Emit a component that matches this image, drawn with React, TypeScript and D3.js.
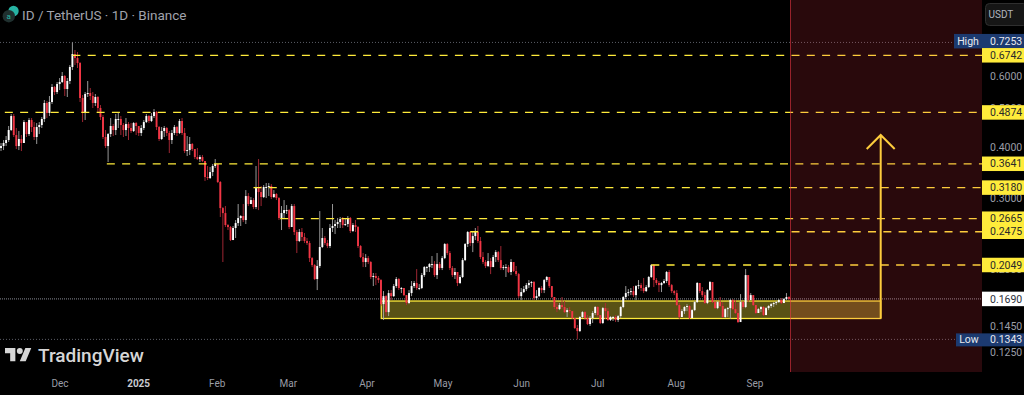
import React from "react";
import * as d3 from "d3";

// Daily candles, 8 Nov 2024 onward (open = previous close)
const firstOpen = 0.3982;
const closes = [
  .4027,.4097,.4167,.4410,.4775,.4287,.4027,.4191,.4097,.4615,
  .4311,.4668,.4486,.4239,.4486,.4537,.4695,.5142,.4858,.5171,
  .5631,.5473,.5727,.5793,.5994,.5567,.5826,.6308,.6792,.6640,
  .6453,.5290,.4858,.5411,.5442,.5350,.5142,.5320,.4998,.4748,
  .4239,.4027,.4311,.4512,.4410,.4695,.4695,.4537,.4410,.4563,
  .4461,.4385,.4589,.4512,.4336,.4461,.4615,.4775,.4642,.4775,
  .4885,.4486,.4191,.4385,.4461,.4336,.4167,.4336,.4486,.4336,
  .4642,.4336,.3914,.3936,.4074,.3959,.3783,.3740,.3783,.3698,
  .3377,.3358,.3474,.3595,.3636,.3283,.2831,.2752,.2571,.2542,
  .2361,.2528,.2600,.2675,.2706,.2645,.3031,.2897,.2963,.2848,
  .3172,.3101,.3014,.3191,.3191,.3209,.3014,.3066,.2997,.2675,
  .2752,.2799,.2799,.2542,.2864,.2471,.2348,.2471,.2402,.2348,
  .2321,.2131,.2048,.1892,.2037,.2269,.2388,.2321,.2282,.2528,
  .2557,.2586,.2615,.2660,.2571,.2586,.2675,.2485,.2571,.2542,
  .2282,.2144,.2084,.2131,.2084,.1914,.1925,.1903,.1881,.1641,
  .1717,.1568,.1747,.1717,.1818,.1892,.1798,.1798,.1727,.1651,
  .1747,.1818,.1850,.1798,.1798,.1935,.2025,.2025,.2060,.2060,
  .1935,.2060,.2014,.2131,.2308,.2193,.2014,.1935,.1969,.1850,
  .1914,.2107,.2308,.2471,.2321,.2415,.2471,.2348,.2144,.2084,
  .2037,.2095,.2025,.2144,.2205,.2107,.2014,.2025,.2025,.1969,
  .2084,.1980,.1946,.1717,.1757,.1787,.1828,.1850,.1860,.1698,
  .1717,.1798,.1777,.1881,.1914,.1818,.1708,.1614,.1595,.1632,
  .1614,.1568,.1586,.1577,.1516,.1433,.1408,.1525,.1568,.1516,
  .1465,.1516,.1560,.1614,.1542,.1474,.1604,.1577,.1499,.1525,
  .1525,.1499,.1533,.1614,.1708,.1747,.1757,.1767,.1727,.1818,
  .1828,.1798,.1767,.1808,.1914,.2048,.1881,.1850,.1828,.1850,
  .1871,.1969,.1828,.1767,.1747,.1632,.1525,.1577,.1614,.1623,
  .1516,.1586,.1660,.1850,.1767,.1727,.1651,.1777,.1860,.1660,
  .1604,.1660,.1623,.1525,.1595,.1604,.1679,.1595,.1560,.1482,
  .1660,.1614,.1935,.1679,.1727,.1632,.1560,.1595,.1614,.1542,
  .1604,.1623,.1641,.1651,.1660,.1679,.1651,.1688,.1708,.1690,
];
const highs = [
  .4097,.4167,.4263,.4512,.4830,.4830,.4461,.4385,.4287,.4668,
  .4615,.4721,.4721,.4615,.4589,.4615,.4748,.5230,.5200,.5350,
  .5727,.5663,.5793,.5926,.6132,.6028,.5926,.6380,.7253,.6948,
  .6870,.6490,.5380,.5473,.5826,.5599,.5473,.5411,.5350,.5083,
  .4802,.4410,.4336,.4721,.4563,.4830,.4885,.4775,.4589,.4721,
  .4615,.4589,.4615,.4615,.4486,.4537,.4668,.4830,.4802,.4858,
  .4969,.4913,.4512,.4486,.4512,.4486,.4385,.4410,.4537,.4512,
  .4695,.4721,.4461,.4263,.4239,.4097,.3959,.3982,.3826,.3826,
  .3698,.3595,.3574,.3636,.3740,.3636,.3301,.2848,.2864,.2586,
  .2557,.2557,.2645,.2897,.2721,.2897,.3136,.3083,.3014,.2997,
  .3595,.3740,.3209,.3227,.3264,.3264,.3245,.3136,.3083,.3014,
  .2864,.2963,.2880,.2815,.2897,.2897,.2499,.2513,.2528,.2457,
  .2388,.2348,.2144,.2060,.2107,.2783,.2528,.2415,.2361,.2586,
  .2897,.2645,.2675,.2691,.2691,.2675,.2706,.2691,.2600,.2645,
  .2557,.2295,.2193,.2180,.2156,.2095,.1958,.1958,.1925,.1892,
  .1767,.1727,.1777,.1777,.1839,.1914,.1903,.1808,.1798,.1727,
  .1777,.1871,.1871,.2002,.1839,.1958,.2037,.2037,.2072,.2156,
  .2095,.2193,.2084,.2156,.2321,.2321,.2218,.2037,.2014,.1946,
  .1935,.2131,.2321,.2485,.2485,.2485,.2528,.2557,.2402,.2205,
  .2107,.2193,.2131,.2168,.2230,.2218,.2282,.2048,.2060,.2048,
  .2119,.2084,.2037,.1958,.1798,.1818,.1850,.1881,.1871,.1871,
  .1777,.1808,.1818,.1892,.1925,.1914,.1818,.1708,.1651,.1651,
  .1708,.1670,.1604,.1614,.1577,.1516,.1457,.1533,.1577,.1577,
  .1542,.1533,.1577,.1623,.1623,.1542,.1614,.1651,.1604,.1533,
  .1533,.1542,.1542,.1623,.1717,.1818,.1787,.1798,.1818,.1828,
  .1881,.1850,.1903,.1828,.1925,.2060,.2060,.1903,.1871,.1860,
  .1892,.1980,.1991,.1839,.1777,.1777,.1651,.1595,.1623,.1641,
  .1632,.1595,.1670,.1860,.1850,.1808,.1757,.1787,.1871,.1860,
  .1670,.1670,.1708,.1660,.1604,.1614,.1688,.1688,.1679,.1651,
  .1737,.1670,.2002,.1935,.1747,.1727,.1632,.1604,.1623,.1623,
  .1614,.1632,.1651,.1660,.1670,.1688,.1698,.1698,.1747,.1717,
];
const lows = [
  .3914,.3936,.4027,.4120,.4385,.4239,.3959,.3936,.3914,.4239,
  .4239,.4263,.4361,.4167,.4074,.4311,.4461,.4615,.4721,.4775,
  .5112,.5380,.5411,.5535,.5760,.5350,.5320,.5727,.6202,.6380,
  .6272,.5171,.4615,.4668,.5320,.5230,.4998,.5055,.4858,.4668,
  .4191,.3982,.3677,.4239,.4263,.4287,.4461,.4287,.4239,.4263,
  .4167,.4336,.4361,.4287,.4263,.4263,.4410,.4589,.4589,.4615,
  .4721,.4410,.4144,.4167,.4239,.4263,.3870,.4074,.4287,.4263,
  .4311,.4287,.3870,.3805,.3826,.3914,.3740,.3719,.3677,.3677,
  .3301,.3320,.3339,.3396,.3554,.3264,.2691,.2084,.2542,.2499,
  .2348,.2361,.2388,.2557,.2557,.2615,.2586,.2864,.2897,.2815,
  .2815,.2799,.2864,.2997,.2997,.3031,.2980,.2997,.2963,.2645,
  .2499,.2675,.2737,.2513,.2615,.2429,.2193,.2334,.2348,.2321,
  .2295,.2084,.2025,.1881,.1777,.2014,.2256,.2295,.2256,.2256,
  .2471,.2443,.2528,.2528,.2528,.2557,.2542,.2457,.2471,.2471,
  .2256,.2131,.2025,.2025,.2060,.1892,.1818,.1828,.1850,.1623,
  .1499,.1533,.1533,.1679,.1708,.1798,.1777,.1747,.1717,.1632,
  .1641,.1717,.1798,.1777,.1777,.1787,.1914,.1969,.1969,.2014,
  .1914,.1892,.1991,.1991,.2119,.2168,.1991,.1914,.1892,.1818,
  .1839,.1903,.2095,.2269,.2282,.2205,.2361,.2321,.2119,.2060,
  .2014,.2025,.1946,.2025,.2084,.2084,.1991,.1991,.1914,.1958,
  .1935,.1969,.1925,.1698,.1679,.1747,.1767,.1798,.1808,.1679,
  .1679,.1708,.1747,.1747,.1860,.1798,.1698,.1595,.1568,.1586,
  .1595,.1560,.1525,.1560,.1508,.1424,.1343,.1400,.1516,.1499,
  .1457,.1449,.1474,.1542,.1525,.1465,.1465,.1508,.1491,.1491,
  .1491,.1482,.1482,.1516,.1604,.1688,.1717,.1727,.1708,.1679,
  .1787,.1767,.1747,.1757,.1798,.1903,.1808,.1828,.1757,.1757,
  .1839,.1850,.1808,.1747,.1727,.1623,.1508,.1525,.1551,.1577,
  .1508,.1516,.1577,.1651,.1747,.1708,.1641,.1641,.1767,.1651,
  .1595,.1595,.1614,.1516,.1516,.1525,.1508,.1586,.1551,.1474,
  .1499,.1595,.1604,.1660,.1698,.1623,.1551,.1560,.1568,.1533,
  .1542,.1586,.1604,.1614,.1632,.1651,.1641,.1651,.1679,.1679,
];

const levels = [0.6742, 0.4874, 0.3641, 0.318, 0.2665, 0.2475, 0.2049];
const levelStartIdx = [28, 1.5, 41.5, 99, 109.5, 184, 255];
const axisTicks = [0.6, 0.5, 0.4, 0.3, 0.245, 0.2, 0.145, 0.125];
const highPrice = 0.7253;
const lowPrice = 0.1343;
const lastPrice = 0.169;
const zoneTop = 0.167;
const zoneBottom = 0.1512;
const targetPrice = 0.4287;
const months: [number, number, string, boolean][] = [
  [2024, 11, "Dec", false],
  [2025, 0, "2025", true],
  [2025, 1, "Feb", false],
  [2025, 2, "Mar", false],
  [2025, 3, "Apr", false],
  [2025, 4, "May", false],
  [2025, 5, "Jun", false],
  [2025, 6, "Jul", false],
  [2025, 7, "Aug", false],
  [2025, 8, "Sep", false],
];

const W = 1024;
const H = 395;
const PLOT_R = 982;
const PLOT_B = 372;
const FONT = "Roboto, 'Liberation Sans', sans-serif";

const y = d3.scaleLog().domain([0.6742, 0.2049]).range([55.3, 265]);
const x = d3.scaleLinear().domain([0, 309]).range([1, 789]);
const xt = d3
  .scaleTime()
  .domain([new Date(2024, 11, 1), new Date(2025, 8, 1)])
  .range([60, 755]);

const f4 = d3.format(".4f");
const UP = "#ffffff";
const DOWN = "#f23645";
const YEL = "#ffeb3b";

function Tag({ p, bg, fg, h = 14.5 }: { p: number; bg: string; fg: string; h?: number }) {
  const cy = y(p);
  return (
    <g>
      <rect x={PLOT_R} y={cy - h / 2} width={W - PLOT_R} height={h} fill={bg} />
      <text x={990} y={cy + 3.7} fontSize={10.5} fill={fg} fontFamily={FONT}>
        {f4(p)}
      </text>
    </g>
  );
}

export default function App() {
  const candles = closes.map((c, i) => ({
    i,
    o: i === 0 ? firstOpen : closes[i - 1],
    c,
    h: highs[i],
    l: lows[i],
  }));
  const ax = 880.7;
  const tipY = y(targetPrice);
  const logo = d3.path();
  return (
    <svg
      width={W}
      height={H}
      viewBox={`0 0 ${W} ${H}`}
      style={{ position: "fixed", left: 0, top: 0, display: "block", background: "#000" }}
    >
      <rect width={W} height={H} fill="#000" />

      {/* reference dotted lines */}
      <line x1={0} x2={954} y1={y(highPrice)} y2={y(highPrice)} stroke="#5a5d66" strokeWidth={1} strokeDasharray="1 2" />
      <line x1={0} x2={956} y1={y(lowPrice)} y2={y(lowPrice)} stroke="#5a5d66" strokeWidth={1} strokeDasharray="1 2" />
      <line x1={0} x2={PLOT_R} y1={y(lastPrice)} y2={y(lastPrice)} stroke="#8a8d96" strokeWidth={1} strokeDasharray="1 1" />

      {/* support zone */}
      <rect
        x={x(149.1)}
        y={y(zoneTop)}
        width={ax - x(149.1)}
        height={y(zoneBottom) - y(zoneTop)}
        fill={YEL}
        fillOpacity={0.35}
        stroke={YEL}
        strokeWidth={1.3}
      />

      {/* candles */}
      {candles.map((d) => {
        const up = d.c >= d.o;
        const col = up ? UP : DOWN;
        const top = Math.min(y(d.o), y(d.c));
        const bot = Math.max(y(d.o), y(d.c));
        return (
          <g key={d.i}>
            <line
              x1={x(d.i)}
              x2={x(d.i)}
              y1={y(d.h)}
              y2={y(d.l)}
              stroke={up ? "#a9a9a9" : "#b02a38"}
              strokeWidth={0.9}
            />
            <rect x={x(d.i) - 0.95} y={top} width={1.9} height={Math.max(bot - top, 1)} fill={col} />
          </g>
        );
      })}

      {/* resistance levels */}
      {levels.map((p, k) => (
        <line
          key={p}
          x1={x(levelStartIdx[k])}
          x2={PLOT_R}
          y1={y(p)}
          y2={y(p)}
          stroke={YEL}
          strokeWidth={1.3}
          strokeDasharray="8 7.3"
        />
      ))}

      {/* projection arrow */}
      <path
        d={`M${ax},${y(zoneBottom)}L${ax},${tipY}M${ax - 14},${tipY + 14}L${ax},${tipY}L${ax + 14},${tipY + 14}`}
        fill="none"
        stroke={YEL}
        strokeWidth={2}
      />

      {/* highlighted future region */}
      <rect x={790} y={0} width={PLOT_R - 790} height={PLOT_B} fill="#f23645" fillOpacity={0.17} />
      <line x1={790.5} x2={790.5} y1={0} y2={PLOT_B} stroke="#f23645" strokeOpacity={0.55} strokeWidth={1} />

      {/* right axis */}
      <rect x={PLOT_R} y={0} width={W - PLOT_R} height={H} fill="#000" />
      {axisTicks.map((p) => (
        <text key={p} x={990} y={y(p) + 3.7} fontSize={10.5} fill="#9a9da6" fontFamily={FONT}>
          {f4(p)}
        </text>
      ))}
      <rect x={954} y={y(highPrice) - 8.5} width={28} height={14.5} fill="#1c3a70" />
      <text x={968} y={y(highPrice) + 2.5} textAnchor="middle" fontSize={10.5} fill="#e8e9ee" fontFamily={FONT}>
        High
      </text>
      <rect x={PLOT_R} y={y(highPrice) - 8.5} width={W - PLOT_R} height={14.5} fill="#1c3a70" />
      <text x={990} y={y(highPrice) + 2.7} fontSize={10.5} fill="#e8e9ee" fontFamily={FONT}>
        {f4(highPrice)}
      </text>
      <rect x={956} y={y(lowPrice) - 6} width={26} height={13} fill="#1c3a70" />
      <text x={969} y={y(lowPrice) + 3.7} textAnchor="middle" fontSize={10.5} fill="#e8e9ee" fontFamily={FONT}>
        Low
      </text>
      <rect x={PLOT_R} y={y(lowPrice) - 6} width={W - PLOT_R} height={13} fill="#1c3a70" />
      <text x={990} y={y(lowPrice) + 3.7} fontSize={10.5} fill="#e8e9ee" fontFamily={FONT}>
        {f4(lowPrice)}
      </text>
      {levels.map((p) => (
        <Tag key={p} p={p} bg={YEL} fg="#2a2a2a" />
      ))}
      <Tag p={lastPrice} bg="#ffffff" fg="#2a2e39" />

      {/* currency button */}
      <rect x={985.5} y={3.5} width={42} height={22} rx={4} fill="#161616" stroke="#2f2f2f" />
      <text x={988.5} y={18} fontSize={10} fill="#b2b5be" fontFamily={FONT}>
        USDT
      </text>

      {/* title */}
      <circle cx={13.5} cy={11} r={5.2} fill="#27b3a3" />
      <circle cx={8.8} cy={16.2} r={6.2} fill="#20302f" />
      <text x={8.8} y={19} textAnchor="middle" fontSize={8} fill="#27b3a3" fontFamily={FONT}>
        a
      </text>
      <text x={22} y={19.7} fontSize={13.5} fill="#a0a3ac" fontFamily={FONT}>
        ID / TetherUS · 1D · Binance
      </text>

      {/* branding */}
      <g transform="translate(5,345) scale(0.74)" fill="#d6d6d6">
        <path d="M14 22H7V11H0V4h14v18zM28 22h-8l7.5-18h8L28 22z" />
        <circle cx={20} cy={8} r={4} />
      </g>
      <text x={38} y={362} fontSize={19} fontWeight={500} fill="#d6d6d6" fontFamily={FONT}>
        TradingView
      </text>

      {/* time axis */}
      {months.map(([yr, mo, label, bold]) => (
        <text
          key={label}
          x={xt(new Date(yr, mo, 1))}
          y={387}
          textAnchor="middle"
          fontSize={10}
          fontWeight={bold ? 700 : 400}
          fill={bold ? "#c8cad0" : "#9a9da6"}
          fontFamily={FONT}
        >
          {label}
        </text>
      ))}
    </svg>
  );
}
